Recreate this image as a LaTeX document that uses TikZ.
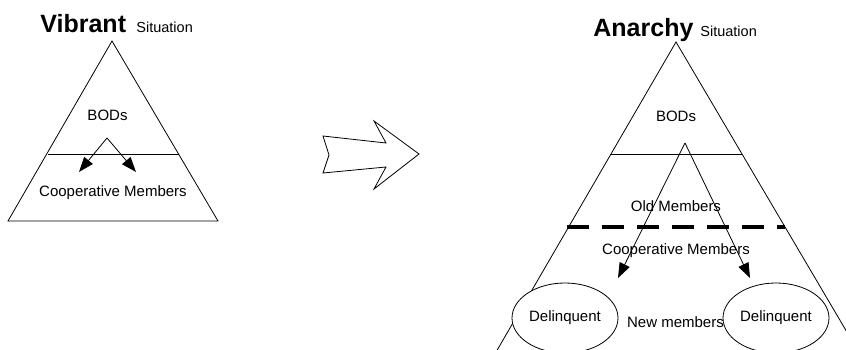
\documentclass[tikz,border=0pt]{standalone}
\usepackage{fontspec}
\setmainfont{Liberation Sans}
\usetikzlibrary{arrows.meta,shapes.geometric}
\begin{document}
\begin{tikzpicture}[x=1pt,y=-1pt, line width=0.8pt,
 lbl/.style={font=\fontsize{15}{17}\selectfont, anchor=base, inner sep=0pt},
 ttl/.style={font=\fontsize{25}{28}\selectfont\bfseries, anchor=base west, inner sep=0pt},
 sit/.style={font=\fontsize{14.5}{16}\selectfont, anchor=base west, inner sep=0pt},
 arr/.style={-{Triangle[length=15pt,width=11pt]}},
 deli/.style={ellipse, draw, fill=white, minimum width=106pt, minimum height=70pt, inner sep=0pt, font=\fontsize{15}{17}\selectfont},
 dashline/.style={line width=4pt, dash pattern=on 22pt off 13pt},
]
\useasboundingbox (0,0) rectangle (846,350);
\clip (0,0) rectangle (846,350);

% ---------- left: Vibrant ----------
\node[ttl] (vib) at (40,33) {Vibrant};
\node[sit] (sit1) at (136,33) {Situation};
\coordinate (LA) at (112,41);
\coordinate (LL) at (8,221);
\coordinate (LR) at (218,221);
\draw (LA) -- (LL) -- (LR) -- cycle;
\coordinate (LM1) at (48,154);
\coordinate (LM2) at (179,154);
\draw (LM1) -- (LM2);
\node[lbl] (bod1) at (107.5,121) {BODs};
\node[lbl] (coop1) at (113,196) {Cooperative Members};
\coordinate (LS) at (107,138);
\coordinate (LT1) at (79,172);
\coordinate (LT2) at (136,172);
\draw[arr] (LS) -- (LT1);
\draw[arr] (LS) -- (LT2);

% ---------- block arrow ----------
\draw (323,136) -- (386,143) -- (374,121) -- (419,154) -- (374,189)
      -- (386,167) -- (323,173) -- (329,155) -- cycle;

% ---------- right: Anarchy ----------
\node[ttl] (ana) at (593,37) {Anarchy};
\node[sit] (sit2) at (700,37) {Situation};
\coordinate (RA) at (676,42);
\coordinate (RL) at (491.4,360);
\coordinate (RR) at (863.4,360);
\draw (RL) -- (RA) -- (RR);
\coordinate (RM1) at (611,154);
\coordinate (RM2) at (742,154);
\draw (RM1) -- (RM2);
\coordinate (RD1) at (567,227);
\coordinate (RD2) at (785,227);
\draw[dashline] (RD1) -- (RD2);
\node[lbl] (bod2) at (676,122) {BODs};
\node[lbl] (old) at (676,211) {Old Members};
\node[lbl] (coop2) at (676,254) {Cooperative Members};
\node[lbl] (new) at (675.5,327) {New members};
\coordinate (RS) at (685,143);
\coordinate (RT1) at (618,278);
\coordinate (RT2) at (750,278);
\draw[arr] (RS) -- (RT1);
\draw[arr] (RS) -- (RT2);
\node[deli] (del1) at (565,318) {Delinquent};
\node[deli] (del2) at (776,318) {Delinquent};
\end{tikzpicture}
\end{document}
